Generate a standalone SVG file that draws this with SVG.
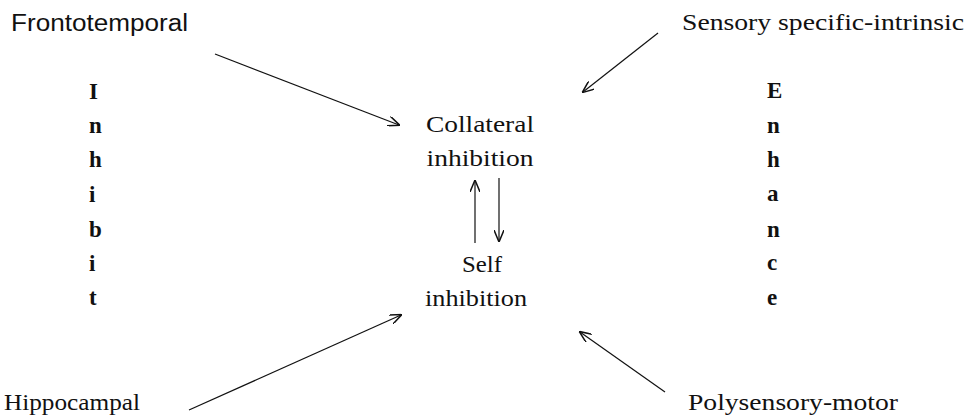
<svg xmlns="http://www.w3.org/2000/svg" width="968" height="417" viewBox="0 0 968 417">
<style>
text{font-family:"Liberation Serif","Times New Roman",serif;font-size:24px;fill:#111}
.sans{font-family:"Liberation Sans",Arial,sans-serif;font-size:23px}
.col{font-weight:bold;font-size:23px}
.mid{text-anchor:middle}
.conn line{stroke:#111;stroke-width:1.2;fill:none}
</style>
<defs>
<marker id="ah" viewBox="0 0 12 10" refX="11" refY="5" markerWidth="12" markerHeight="10" markerUnits="userSpaceOnUse" orient="auto">
<path d="M0,0 L12,5 L0,10" fill="none" stroke="#111" stroke-width="1.5"/>
</marker>
</defs>
<rect width="968" height="417" fill="#fff"/>
<g id="frontotemporal"><text class="sans" x="11" y="31" textLength="177" lengthAdjust="spacingAndGlyphs">Frontotemporal</text></g>
<g id="sensory"><text x="682" y="30" textLength="282" lengthAdjust="spacingAndGlyphs">Sensory specific-intrinsic</text></g>
<g id="hippocampal"><text x="4" y="410" textLength="136" lengthAdjust="spacingAndGlyphs">Hippocampal</text></g>
<g id="polysensory"><text x="688" y="410" textLength="210" lengthAdjust="spacingAndGlyphs">Polysensory-motor</text></g>
<g id="collateral">
<text class="mid" x="480" y="132" textLength="108" lengthAdjust="spacingAndGlyphs">Collateral</text>
<text class="mid" x="480" y="166" textLength="107" lengthAdjust="spacingAndGlyphs">inhibition</text>
</g>
<g id="self">
<text class="mid" x="482" y="272" textLength="40" lengthAdjust="spacingAndGlyphs">Self</text>
<text class="mid" x="476" y="306" textLength="102" lengthAdjust="spacingAndGlyphs">inhibition</text>
</g>
<g id="inhibit">
<text class="col" x="89" y="99">I</text>
<text class="col" x="89" y="133">n</text>
<text class="col" x="89" y="167">h</text>
<text class="col" x="89" y="202">i</text>
<text class="col" x="89" y="237">b</text>
<text class="col" x="89" y="271">i</text>
<text class="col" x="89" y="305">t</text>
</g>
<g id="enhance">
<text class="col" x="767" y="98">E</text>
<text class="col" x="767" y="133">n</text>
<text class="col" x="767" y="167">h</text>
<text class="col" x="767" y="201">a</text>
<text class="col" x="767" y="237">n</text>
<text class="col" x="767" y="270">c</text>
<text class="col" x="767" y="305">e</text>
</g>
<g class="conn" id="connectors">
<line x1="215" y1="54" x2="399" y2="125" marker-end="url(#ah)"/>
<line x1="658" y1="33" x2="583" y2="92" marker-end="url(#ah)"/>
<line x1="189" y1="410" x2="401" y2="315" marker-end="url(#ah)"/>
<line x1="665" y1="392" x2="580" y2="332" marker-end="url(#ah)"/>
<line x1="475" y1="243" x2="475" y2="181" marker-end="url(#ah)"/>
<line x1="499" y1="178" x2="499" y2="241" marker-end="url(#ah)"/>
</g>
</svg>
